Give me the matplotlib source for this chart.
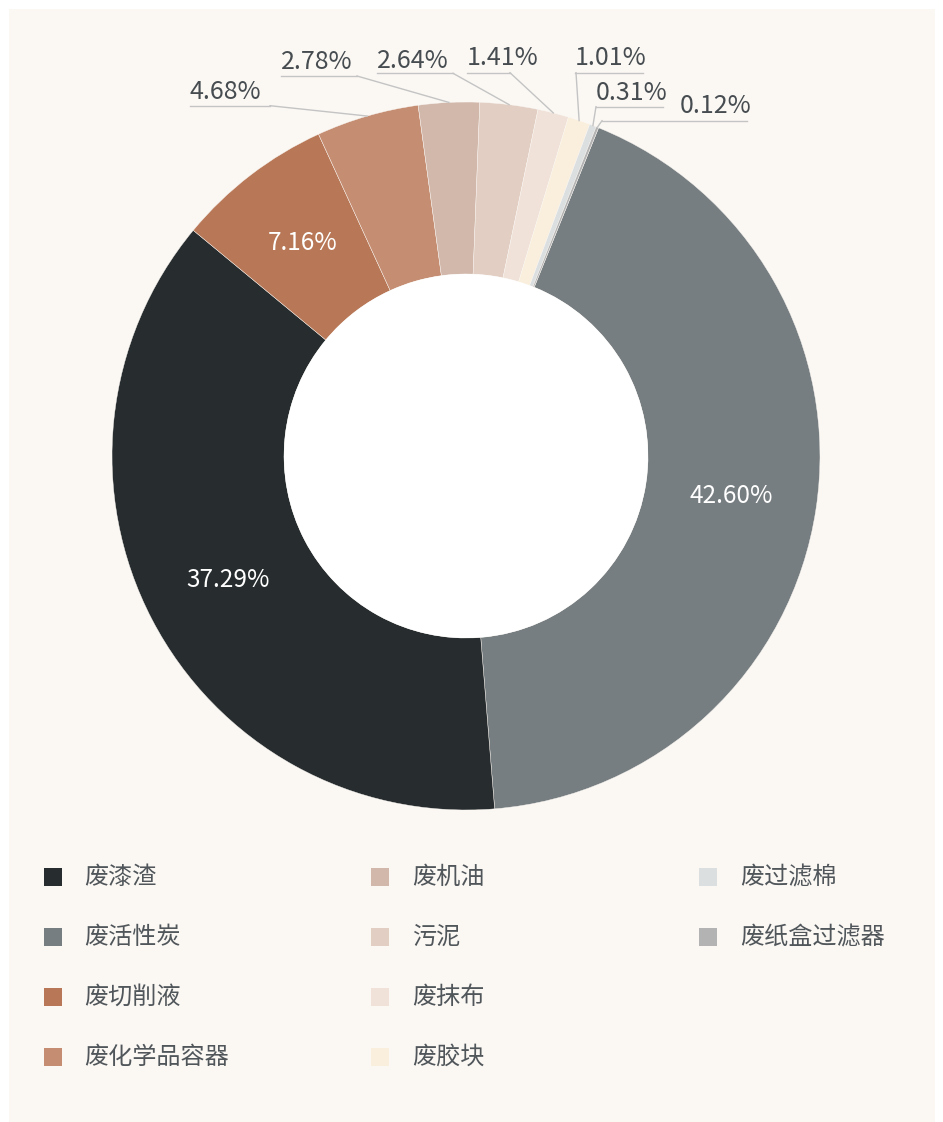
import numpy as np
import matplotlib
matplotlib.use('Agg')
import matplotlib.pyplot as plt
from matplotlib.patches import Rectangle, Circle

plt.rcParams['font.family'] = ['Noto Sans CJK SC', 'DejaVu Sans']

# waste categories, clockwise from the top
names = ['废活性炭', '废漆渣', '废切削液', '废化学品容器', '废机油',
         '污泥', '废抹布', '废胶块', '废过滤棉', '废纸盒过滤器']
values = [42.60, 37.29, 7.16, 4.68, 2.78, 2.64, 1.41, 1.01, 0.31, 0.12]
colors = ['#777e81', '#272d2f', '#b87857', '#c58e73', '#d2b8ab',
          '#e2cec3', '#f0e2d8', '#faefdc', '#dcdfe0', '#b3b3b3']

# legend order (column by column)
legend_names = ['废漆渣', '废活性炭', '废切削液', '废化学品容器',
                '废机油', '污泥', '废抹布', '废胶块',
                '废过滤棉', '废纸盒过滤器']

W, H = 943, 1122
fig = plt.figure(figsize=(W / 100, H / 100), dpi=100, facecolor='white')
ax = fig.add_axes([0, 0, 1, 1])

def py(y):
    # pixel rows from the top -> data y
    return H - y

cx, cy = 466, py(456)
r_out, r_in = 354, 182
start = 90 - 22

wedges, _ = ax.pie(values, colors=colors, startangle=start, counterclock=False,
                   center=(cx, cy), radius=r_out, frame=True,
                   wedgeprops=dict(width=r_out - r_in, edgecolor='#fbf8f4', linewidth=0.3))
ax.set_xlim(0, W)
ax.set_ylim(0, H)
ax.set_aspect('equal')
ax.axis('off')
ax.add_patch(Rectangle((9, 0), 926, H - 9, facecolor='#fbf8f4', edgecolor='none', zorder=0))
ax.add_patch(Circle((cx, cy), r_in, facecolor='white', edgecolor='none', zorder=3))

def mid_angle(w):
    return np.deg2rad((w.theta1 + w.theta2) / 2)

# labels inside the three big slices
for i in range(3):
    a = mid_angle(wedges[i])
    rr = (r_out + r_in) / 2
    ax.text(cx + rr * np.cos(a), cy + rr * np.sin(a), f'{values[i]:.2f}%',
            color='white', fontsize=17.5, ha='center', va='center', zorder=4)

# outside labels: text left x, baseline row, underline row, underline end x, elbow x
outside = {
    3: (190, 99, 105.7, 270, 270),
    4: (281, 69, 76, 357, 357),
    5: (377, 68, 73.3, 453, 453),
    6: (467, 65, 72.7, 510, 510),
    7: (575, 65, 72.7, 643, 576),
    8: (596, 100, 106.7, 663, 596),
    9: (680, 113, 120.7, 747, 602),
}
for i, (tx, ty, uy, ux, ex) in outside.items():
    a = mid_angle(wedges[i])
    px, pyy = cx + r_out * np.cos(a), cy + r_out * np.sin(a)
    x0 = min(tx, ex)
    ax.plot([x0, ux], [py(uy), py(uy)], color='#c4c4c4', lw=1, zorder=2)
    ax.plot([ex, px], [py(uy), pyy], color='#c4c4c4', lw=1, zorder=2)
    ax.text(tx, py(ty), f'{values[i]:.2f}%', color='#464c50', fontsize=18,
            ha='left', va='baseline', zorder=4)

# legend drawn by hand: 4 rows per column
col_sq = [44, 371, 699]
col_tx = [84, 412, 740]
row_y = [877, 937, 997, 1057]
color_of = dict(zip(names, colors))
for k, nm in enumerate(legend_names):
    c, r = divmod(k, 4)
    ax.add_patch(Rectangle((col_sq[c], py(row_y[r] + 9)), 18, 18,
                           facecolor=color_of[nm], edgecolor='none', zorder=4))
    ax.text(col_tx[c], py(row_y[r]), nm, color='#50565a', fontsize=17.4,
            ha='left', va='center', zorder=4)

fig.savefig('out.png', dpi=100, facecolor='white')
